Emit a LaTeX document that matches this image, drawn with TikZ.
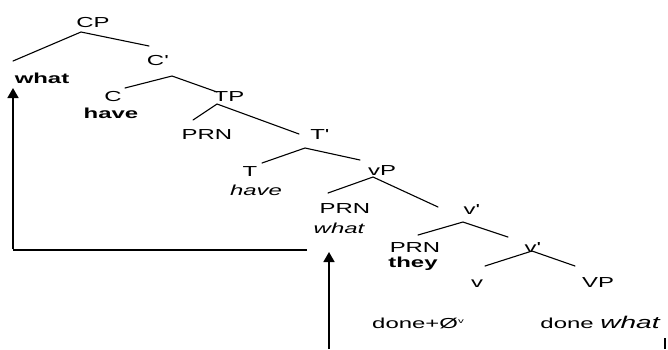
\documentclass[tikz,border=0pt]{standalone}
\usepackage{fontspec}
\setmainfont[FakeStretch=1.65]{Liberation Sans}
\usetikzlibrary{arrows.meta}

\begin{document}
\begin{tikzpicture}[x=1pt,y=-1pt,
  lab/.style={anchor=base, inner sep=0pt, font=\fontsize{14.5}{17}\selectfont},
  branch/.style={line width=1.1pt, line cap=round},
  move/.style={line width=1.7pt},
  movetip/.style={move, -{Triangle[length=10pt,width=11pt]}},
  ]
\useasboundingbox (0,0) rectangle (668,349);

% labels of the tree
\node[lab] (cp)    at (93,27)  {CP};
\node[lab] (cbar)  at (157,65) {C\textquotesingle};
\node[lab] (whtop) at (42,83)  {\bfseries what};
\node[lab] (c)     at (113,101) {C};
\node[lab] (havec) at (111,118) {\bfseries have};
\node[lab] (tp)    at (229,101) {TP};
\node[lab] (prnt)  at (207,139) {PRN};
\node[lab] (tbar)  at (319,139) {T\textquotesingle};
\node[lab] (t)     at (250,176) {T};
\node[lab] (havet) at (256,195) {\itshape have};
\node[lab] (vp)    at (382,175) {vP};
\node[lab] (prnv)  at (345,213) {PRN};
\node[lab] (whv)   at (339,233) {\itshape what};
\node[lab] (vbar)  at (471,214) {v\textquotesingle};
\node[lab] (prns)  at (415,252) {PRN};
\node[lab] (they)  at (413,267) {\bfseries they};
\node[lab] (vbarb) at (532,252) {v\textquotesingle};
\node[lab] (v)     at (477,287) {v};
\node[lab] (vpl)   at (598,287) {VP};
\node[lab] (donev) at (418,328) {done+Ø\raisebox{5pt}{\fontsize{7}{7}\selectfont v}};
\node[lab] (donew) at (600,328) {done {\itshape\fontsize{17}{17}\selectfont what}};

% branch points
\coordinate (cp-a) at (81,32);   \coordinate (cp-l) at (13,61);   \coordinate (cp-r) at (149,46);
\coordinate (cb-a) at (172,76);  \coordinate (cb-l) at (125,88);  \coordinate (cb-r) at (217,92);
\coordinate (tp-a) at (217,104); \coordinate (tp-l) at (193,120); \coordinate (tp-r) at (299,134);
\coordinate (tb-a) at (305,148); \coordinate (tb-l) at (262,163); \coordinate (tb-r) at (360,160);
\coordinate (vp-a) at (373,177); \coordinate (vp-l) at (328,193); \coordinate (vp-r) at (438,207);
\coordinate (vb-a) at (463,222); \coordinate (vb-l) at (418,235); \coordinate (vb-r) at (508,237);
\coordinate (vc-a) at (532,251); \coordinate (vc-l) at (485,266); \coordinate (vc-r) at (575,266);

\draw[branch] (cp-l) -- (cp-a) -- (cp-r);
\draw[branch] (cb-l) -- (cb-a) -- (cb-r);
\draw[branch] (tp-l) -- (tp-a) -- (tp-r);
\draw[branch] (tb-l) -- (tb-a) -- (tb-r);
\draw[branch] (vp-l) -- (vp-a) -- (vp-r);
\draw[branch] (vb-l) -- (vb-a) -- (vb-r);
\draw[branch] (vc-l) -- (vc-a) -- (vc-r);

% movement arrows
\coordinate (m1-start) at (307,250);
\coordinate (m1-turn)  at (13,250);
\coordinate (m1-tip)   at (13,88);
\draw[line width=1.4pt] (m1-start) -- (m1-turn);
\draw[movetip] ([yshift=0.7pt]m1-turn) -- (m1-tip);

\coordinate (m2-start) at (329,349);
\coordinate (m2-tip)   at (329,252);
\draw[movetip] (m2-start) -- (m2-tip);

\coordinate (stub-top) at (665,338);
\coordinate (stub-bot) at (665,349);
\draw[branch, line cap=butt] (stub-top) -- (stub-bot);
\end{tikzpicture}
\end{document}
